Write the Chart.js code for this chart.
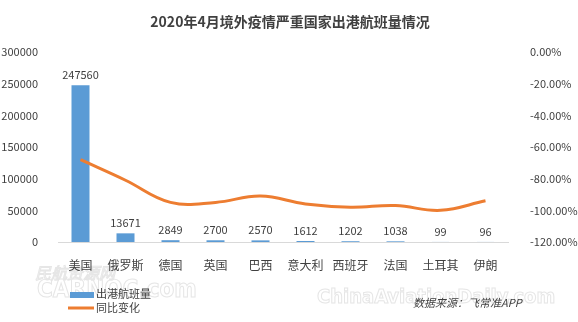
<!DOCTYPE html>
<html>
<head>
<meta charset="utf-8">
<script src="https://cdn.jsdelivr.net/npm/chart.js@4/dist/chart.umd.min.js"></script>
<style>
  html, body { margin: 0; padding: 0; background: #fff; }
</style>
</head>
<body>
<canvas id="flights" width="578" height="322"></canvas>
<script>
  const FONT = '"Noto Sans CJK SC", "Noto Sans", sans-serif';

  const countries = ['美国', '俄罗斯', '德国', '英国', '巴西', '意大利', '西班牙', '法国', '土耳其', '伊朗'];
  const departures = [247560, 13671, 2849, 2700, 2570, 1612, 1202, 1038, 99, 96];
  const yoyChange = [-0.68, -0.81, -0.95, -0.95, -0.91, -0.96, -0.98, -0.97, -1.00, -0.94];
  const leftTicks = [0, 50000, 100000, 150000, 200000, 250000, 300000];
  const rightTicks = [0, -0.2, -0.4, -0.6, -0.8, -1.0, -1.2];

  const titleText = '2020年4月境外疫情严重国家出港航班量情况';
  const sourceText = '数据来源：飞常准APP';

  // faint site marks, title, value labels, legend and source note
  const decorations = {
    id: 'decorations',
    beforeDraw(chart) {
      const ctx = chart.ctx;
      ctx.save();
      ctx.strokeStyle = '#e6e6e6';
      ctx.lineWidth = 1;
      ctx.textBaseline = 'middle';
      ctx.textAlign = 'left';
      ctx.font = 'italic 16px ' + FONT;
      ctx.strokeText('民航资源网', 35, 273);
      ctx.font = 'bold 24px "DejaVu Sans Condensed", sans-serif';
      ctx.strokeText('CARNOC.com', 37, 291);
      ctx.font = 'bold 20px "DejaVu Sans Condensed", sans-serif';
      ctx.strokeText('ChinaAviationDaily.com', 317, 298);
      ctx.restore();
    },
    afterDatasetsDraw(chart) {
      const ctx = chart.ctx;
      ctx.save();

      // values above bars
      const bars = chart.getDatasetMeta(0).data;
      ctx.fillStyle = '#404040';
      ctx.font = '11px ' + FONT;
      ctx.textAlign = 'center';
      ctx.textBaseline = 'bottom';
      bars.forEach((bar, i) => {
        ctx.fillText(String(departures[i]), bar.x, bar.y - 5);
      });
      ctx.restore();
    },
    afterDraw(chart) {
      const ctx = chart.ctx;
      ctx.save();

      ctx.fillStyle = '#404040';
      ctx.font = 'bold 14px ' + FONT;
      ctx.textAlign = 'center';
      ctx.textBaseline = 'middle';
      ctx.fillText(titleText, 290, 22);

      // legend
      ctx.font = '11px ' + FONT;
      ctx.textAlign = 'left';
      ctx.fillStyle = '#5b9bd5';
      ctx.fillRect(70, 292, 24, 6);
      ctx.strokeStyle = '#ed7d31';
      ctx.lineWidth = 3;
      ctx.beginPath();
      ctx.moveTo(68, 308);
      ctx.lineTo(94, 308);
      ctx.stroke();
      ctx.fillStyle = '#404040';
      ctx.fillText('出港航班量', 96, 294);
      ctx.fillText('同比变化', 96, 308);

      // source
      ctx.font = 'italic 11px ' + FONT;
      ctx.fillText(sourceText, 413, 303);

      ctx.restore();
    }
  };

  new Chart(document.getElementById('flights'), {
    data: {
      labels: countries,
      datasets: [
        {
          type: 'bar',
          label: '出港航班量',
          data: departures,
          backgroundColor: '#5b9bd5',
          barPercentage: 0.4,
          categoryPercentage: 1,
          yAxisID: 'y',
          order: 2
        },
        {
          type: 'line',
          label: '同比变化',
          data: yoyChange,
          borderColor: '#ed7d31',
          borderWidth: 3,
          pointRadius: 0,
          tension: 0.4,
          yAxisID: 'y1',
          order: 1
        }
      ]
    },
    options: {
      responsive: false,
      animation: false,
      layout: { padding: { top: 52, left: 0, right: 0, bottom: 0 } },
      plugins: {
        legend: { display: false },
        tooltip: { enabled: false }
      },
      scales: {
        x: {
          grid: { display: false },
          border: { color: '#d9d9d9' },
          ticks: { color: '#404040', font: { family: FONT, size: 12 }, padding: 8, maxRotation: 0 },
          afterFit(scale) { scale.height = 80; }
        },
        y: {
          position: 'left',
          min: 0,
          max: 300000,
          afterBuildTicks(scale) { scale.ticks = leftTicks.map(v => ({ value: v })); },
          grid: { display: false },
          border: { display: false },
          ticks: {
            color: '#404040',
            font: { family: FONT, size: 11 },
            padding: 12,
            callback: v => String(v)
          },
          afterFit(scale) { scale.width = 58; }
        },
        y1: {
          position: 'right',
          min: -1.2,
          max: 0,
          afterBuildTicks(scale) { scale.ticks = rightTicks.map(v => ({ value: v })); },
          grid: { display: false },
          border: { display: false },
          ticks: {
            color: '#404040',
            font: { family: FONT, size: 11 },
            padding: 14,
            callback: v => (v * 100).toFixed(2) + '%'
          },
          afterFit(scale) { scale.width = 70; }
        }
      }
    },
    plugins: [decorations]
  });
</script>
</body>
</html>
